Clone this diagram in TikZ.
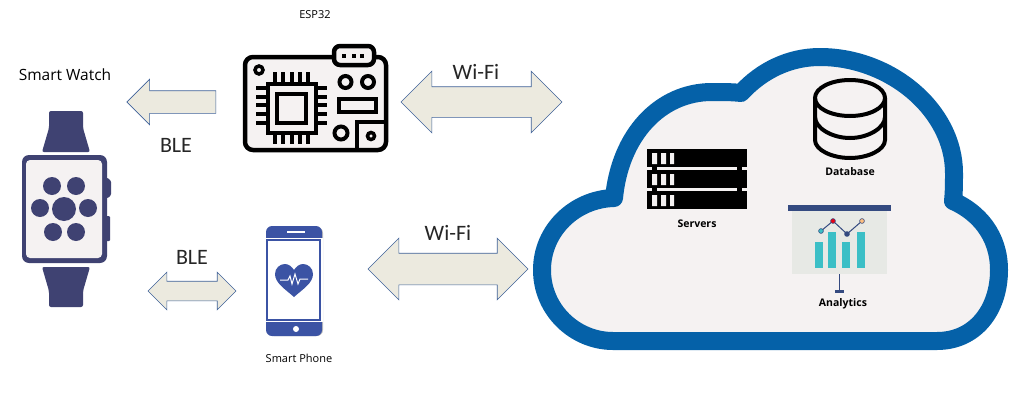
\documentclass[tikz,border=0pt]{standalone}
\usepackage{fontspec}
\setmainfont{Carlito}
\newfontfamily\labelfont{Open Sans}
\usetikzlibrary{shapes.arrows}
\definecolor{watchblue}{HTML}{3F4272}
\definecolor{cloudblue}{HTML}{0561A8}
\definecolor{paper}{HTML}{F5F2F2}
\definecolor{arrowfill}{HTML}{ECEADF}
\definecolor{arrowline}{HTML}{3F6299}
\definecolor{phoneblue}{HTML}{3B53A4}
\definecolor{barteal}{HTML}{3BBFC6}
\definecolor{boardnavy}{HTML}{344A80}
\definecolor{panelgrey}{HTML}{E7E9E5}
\tikzset{
  blockarrow/.style={draw=arrowline, fill=arrowfill, line width=0.6pt, inner xsep=0pt, outer sep=0pt},
  biglabel/.style={font=\fontsize{22}{22}\selectfont, text=black!85},
  smalllabel/.style={font=\labelfont\fontsize{11}{11}\selectfont, text=black},
  boldlabel/.style={font=\labelfont\bfseries\fontsize{10.5}{10.5}\selectfont, text=black}
}
\begin{document}
\begin{tikzpicture}[x=1pt,y=-1pt]
\useasboundingbox (0,0) rectangle (1015,407);
% cloud
\draw [line width=18pt, line join=round, cloudblue, fill=paper] (613,341) -- (937,341) .. controls (975,341) and (999,310) .. (999,270) .. controls (999,235) and (978,212) .. (953,201) .. controls (954,192) and (954,182) .. (954,173) .. controls (954,110) and (890,57) .. (820,57) .. controls (790,57) and (762,70) .. (741,93) .. controls (733,92) and (722,92) .. (712,92) .. controls (660,92) and (620,135) .. (614,198) .. controls (575,199) and (542,230) .. (542,270) .. controls (542,310) and (575,341) .. (613,341) -- cycle;
% watch
\fill [watchblue, rounded corners=2pt] (49,111) -- (83,111) -- (83,128) -- (90,152) -- (42,152) -- (49,128) -- cycle;
\fill [watchblue, rounded corners=2pt] (42,267) -- (90,267) -- (83,291) -- (83,307) -- (49,307) -- (49,291) -- cycle;
\fill [watchblue, rounded corners=1pt] (105,178) -- (108,178) -- (111,181) -- (111,195) -- (108,198) -- (105,198) -- cycle;
\fill [watchblue, rounded corners=1pt] (105,216) -- (110,216) -- (110,241) -- (105,241) -- cycle;
\fill [watchblue, rounded corners=7pt] (22,155) rectangle (107,263);
\fill [paper, rounded corners=4pt] (26,160) rectangle (102,258);
\fill [watchblue] (52,186) circle (9);
\fill [watchblue] (76,186) circle (9);
\fill [watchblue] (40,208) circle (9);
\fill [watchblue] (64,209) circle (12);
\fill [watchblue] (88,208) circle (9);
\fill [watchblue] (53,232) circle (9);
\fill [watchblue] (76,232) circle (9);
\node [smalllabel, font=\labelfont\fontsize{15.5}{15.5}\selectfont] (watchlabel) at (65,75) {Smart Watch};
% arrows
\node [blockarrow, single arrow, shape border rotate=180, inner ysep=11pt, minimum height=89pt, single arrow head extend=11.5pt] (blewatch) at (177,102) {};
\node [blockarrow, double arrow, inner ysep=9.5pt, minimum height=88pt, double arrow head extend=9pt] (blephone) at (192,291) {};
\node [blockarrow, double arrow, inner ysep=15pt, minimum height=161pt, double arrow head extend=15.5pt] (wifiesp) at (481.5,102) {};
\node [blockarrow, double arrow, inner ysep=15.5pt, minimum height=160pt, double arrow head extend=15pt] (wifiphone) at (448,269) {};
\node [biglabel] (bleone) at (176,145) {BLE};
\node [biglabel] (bletwo) at (192,257) {BLE};
\node [biglabel] (wifione) at (476,72) {Wi-Fi};
\node [biglabel] (wifitwo) at (448,233) {Wi-Fi};
% esp32 board
\draw [line width=4.5pt, rounded corners=8pt, fill=paper] (245,57) rectangle (386,150);
\draw [line width=4.5pt, rounded corners=6pt, fill=paper] (334,46) rectangle (374,65);
\fill (342,54) rectangle (346,58);
\fill (352,54) rectangle (356,58);
\fill (360,54) rectangle (364,58);
\draw [line width=3.5pt] (259,70) circle (4);
\draw [line width=3.5pt] (268,84) rectangle (316,133);
\draw [line width=4pt] (277,94) rectangle (306,123);
\draw [line width=4pt] (275,72) -- (275,84) (283,72) -- (283,84) (292,72) -- (292,84) (300,72) -- (300,84) (308,72) -- (308,84);
\draw [line width=4pt] (275,133) -- (275,144) (283,133) -- (283,144) (292,133) -- (292,144) (300,133) -- (300,144) (308,133) -- (308,144);
\draw [line width=4pt] (256,88) -- (268,88) (256,97) -- (268,97) (256,105) -- (268,105) (256,114) -- (268,114) (256,123) -- (268,123);
\draw [line width=4pt] (316,88) -- (327,88) (316,97) -- (327,97) (316,105) -- (327,105) (316,114) -- (327,114) (316,123) -- (327,123);
\draw [line width=4pt] (345.5,82) circle (6);
\draw [line width=4pt] (368,82) circle (6);
\draw [line width=4pt] (339,99) rectangle (376,112);
\draw [line width=4pt] (341,133) circle (6.5);
\draw [line width=3.5pt] (357,150) -- (357,122) -- (386,122);
\draw [line width=3.5pt] (371,136) circle (3.5);
\node [smalllabel] (esplabel) at (315,15) {ESP32};
% phone
\fill [black!25, rounded corners=6pt] (268,227) rectangle (323,336);
\fill [phoneblue, rounded corners=6pt] (266,226) rectangle (322,336);
\fill [white] (266,238) rectangle (323,322);
\draw [phoneblue, line width=1.2pt] (267,240) rectangle (320,320);
\draw [white, line width=1.2pt] (287,232) -- (305,232);
\fill [white] (296,329) circle (3);
\fill [phoneblue] (294,297) .. controls (285,289) and (275,283) .. (275,274) .. controls (275,268) and (280,264) .. (285,264) .. controls (289,264) and (292,267) .. (294,270) .. controls (296,267) and (299,264) .. (303,264) .. controls (308,264) and (313,268) .. (313,274) .. controls (313,283) and (303,289) .. (294,297) -- cycle;
\draw [white, line width=1pt] (280,280) -- (288,280) -- (290,276) -- (292,284) -- (295,274) -- (298,284) -- (300,279) -- (308,279);
\node [smalllabel] (phonelabel) at (299,358) {Smart Phone};
% servers
\fill (647,149) rectangle (747,167);
\fill (647,170) rectangle (747,188);
\fill (647,191) rectangle (747,209);
\fill (652,166) rectangle (657,171);
\fill (737,166) rectangle (742,171);
\fill (652,187) rectangle (657,192);
\fill (737,187) rectangle (742,192);
\fill [paper] (652,153) rectangle (657,164) (661,153) rectangle (666,164) (670,153) rectangle (674,164);
\fill [paper] (652,174) rectangle (657,185) (661,174) rectangle (666,185) (670,174) rectangle (674,185);
\fill [paper] (652,195) rectangle (657,206) (661,195) rectangle (666,206) (670,195) rectangle (674,206);
\node [boldlabel] (serverlabel) at (697,224) {Servers};
% database
\draw [line width=4pt, fill=paper] (815,98) -- (815,140) .. controls (815,150) and (832,158) .. (850,158) .. controls (868,158) and (885,150) .. (885,140) -- (885,98);
\draw [line width=4pt] (850,98) ellipse (35 and 18);
\draw [line width=4pt] (815,117) .. controls (815,128) and (832,138) .. (850,138) .. controls (868,138) and (885,128) .. (885,117);
\node [boldlabel] (dblabel) at (850,172) {Database};
% analytics
\fill [panelgrey] (792,211) rectangle (887,274);
\fill [boardnavy] (788,205) rectangle (891,211);
\fill [barteal] (815,242) rectangle (823,268);
\fill [barteal] (828,232) rectangle (836,268);
\fill [barteal] (842,242) rectangle (850,268);
\fill [barteal] (857,232) rectangle (865,268);
\draw [boardnavy, line width=1pt] (821,231) -- (833,221) -- (847,234) -- (862,221);
\draw [boardnavy, line width=0.6pt, fill=barteal] (821,231) circle (2.4);
\draw [boardnavy, line width=0.6pt, fill=red!70!purple] (833,221) circle (2.4);
\fill [boardnavy] (847,234) circle (2.8);
\draw [boardnavy, line width=0.6pt, fill=orange!50] (862,221) circle (2.4);
\draw [boardnavy, line width=1pt] (839,274) -- (839,291);
\fill [boardnavy] (835,290) rectangle (844,293);
\node [boldlabel] (analyticslabel) at (843,304) {Analytics};
\end{tikzpicture}
\end{document}
